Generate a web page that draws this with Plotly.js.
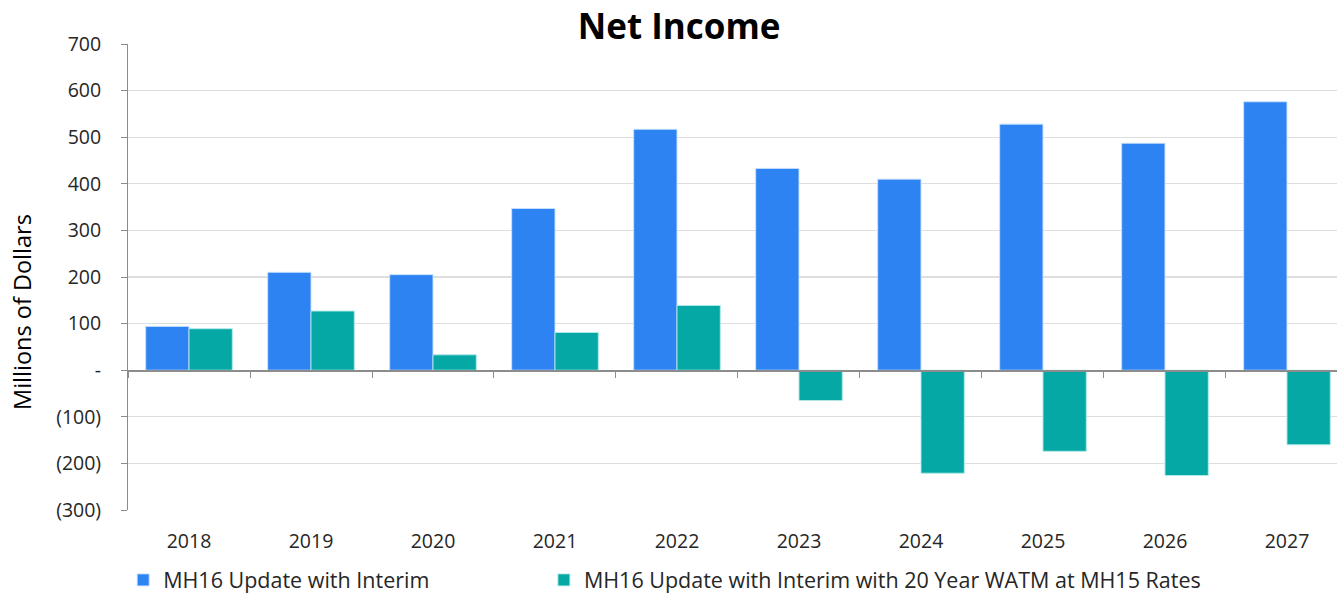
<!DOCTYPE html>
<html>
<head>
<meta charset="utf-8">
<script src="https://cdn.plot.ly/plotly-3.0.1.min.js"></script>
<style>html,body{margin:0;padding:0;background:#fff;overflow:hidden}#chart{width:1337px;height:595px}</style>
</head>
<body>
<div id="chart"></div>
<script>
const years = ["2018","2019","2020","2021","2022","2023","2024","2025","2026","2027"];
const seriesNames = ["MH16 Update with Interim", "MH16 Update with Interim with 20 Year WATM at MH15 Rates"];
const updateInterim = [94, 210, 205, 347, 517, 433, 410, 528, 487, 576];
const updateWatm = [89, 127, 33, 81, 139, -65, -221, -174, -226, -160];
const yTickVals = [-300, -200, -100, 0, 100, 200, 300, 400, 500, 600, 700];
const yTickText = ["(300)", "(200)", "(100)", "-", "100", "200", "300", "400", "500", "600", "700"];
const yTitle = "Millions of Dollars";
const yRange = [-300, 700];
const xRange = [-0.5, 9.41];

const FONT = "'Open Sans', Lato, sans-serif";
const traces = [
  {type: "bar", name: seriesNames[0], x: years, y: updateInterim, legend: "legend",
   marker: {color: "#2E83F2", line: {color: "rgba(200,225,255,0.9)", width: 1}}},
  {type: "bar", name: seriesNames[1], x: years, y: updateWatm, legend: "legend2",
   marker: {color: "#05A8A5", line: {color: "rgba(180,235,232,0.9)", width: 1}}},
  {type: "bar", x: years, y: years.map(() => null), xaxis: "x2", showlegend: false, hoverinfo: "skip"}
];

const legendFont = {family: FONT, size: 21.5, color: "#262626"};
const layout = {
  width: 1337, height: 595,
  margin: {l: 128, r: 0, t: 44, b: 85, autoexpand: false},
  paper_bgcolor: "#fff", plot_bgcolor: "#fff",
  font: {family: FONT, color: "#262626", size: 19},
  title: {text: "<b>Net Income</b>", font: {family: FONT, size: 35, color: "#000"},
          x: 0.508, xanchor: "center", y: 0.955, yanchor: "middle", automargin: false},
  barmode: "group", bargap: 0.29, bargroupgap: 0,
  showlegend: true,
  legend: {orientation: "h", x: -0.004, xanchor: "left", y: -0.150, yanchor: "middle",
           font: legendFont, itemwidth: 30, bgcolor: "rgba(0,0,0,0)"},
  legend2: {orientation: "h", x: 0.344, xanchor: "left", y: -0.150, yanchor: "middle",
            font: legendFont, itemwidth: 30, bgcolor: "rgba(0,0,0,0)"},
  xaxis: {type: "category", range: xRange, showline: false, showgrid: false, zeroline: false,
          automargin: false,
          ticks: "", ticklabelstandoff: 17, tickfont: {family: FONT, size: 19.5, color: "#262626"}},
  xaxis2: {type: "category", range: xRange, overlaying: "x", anchor: "free", position: 0.3,
           side: "bottom", showline: true, linecolor: "#8c8c8c", linewidth: 1.3, showgrid: false,
           ticks: "outside", tickson: "boundaries", ticklen: 6, tickcolor: "#8c8c8c",
           showticklabels: false, zeroline: false, automargin: false},
  yaxis: {range: yRange, tickvals: yTickVals, ticktext: yTickText, showline: true,
          linecolor: "#8c8c8c", linewidth: 1, ticks: "outside", ticklen: 6, tickcolor: "#8c8c8c",
          showgrid: true, gridcolor: "#dedede", gridwidth: 1.3, zeroline: false, automargin: false,
          ticklabelstandoff: 16, tickfont: {family: FONT, size: 19.5, color: "#262626"}},
  annotations: [{text: yTitle, textangle: -90, xref: "paper", yref: "paper", x: 0, y: 0.425,
                 xanchor: "center", yanchor: "middle", xshift: -106, showarrow: false,
                 font: {family: FONT, size: 23.5, color: "#000"}}]
};

Plotly.newPlot("chart", traces, layout, {displayModeBar: false, staticPlot: true});
</script>
</body>
</html>
